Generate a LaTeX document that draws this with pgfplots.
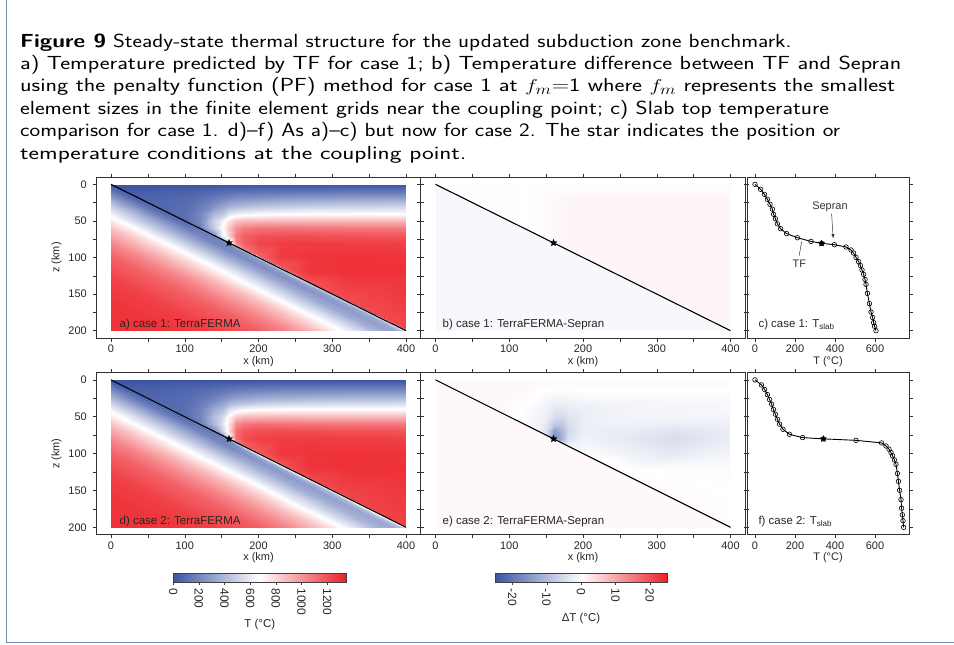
\documentclass[border=0pt]{standalone}
\usepackage{fontspec}
\setmainfont{Liberation Sans}
\usepackage{graphicx}
\usepackage{pgfplots}
\usepackage{pgfplotstable}
\pgfplotsset{compat=1.18}

\definecolor{bordercol}{RGB}{112,142,182}
\pgfplotsset{colormap={polar}{rgb255(0cm)=(59,84,164); rgb255(1cm)=(255,255,255); rgb255(2cm)=(237,32,39)}}

\pgfdeclareplotmark{fstar}{%
 \pgfpathmoveto{\pgfpointpolar{90}{\pgfplotmarksize}}%
 \pgfpathlineto{\pgfpointpolar{126}{0.42\pgfplotmarksize}}%
 \pgfpathlineto{\pgfpointpolar{162}{\pgfplotmarksize}}%
 \pgfpathlineto{\pgfpointpolar{198}{0.42\pgfplotmarksize}}%
 \pgfpathlineto{\pgfpointpolar{234}{\pgfplotmarksize}}%
 \pgfpathlineto{\pgfpointpolar{270}{0.42\pgfplotmarksize}}%
 \pgfpathlineto{\pgfpointpolar{306}{\pgfplotmarksize}}%
 \pgfpathlineto{\pgfpointpolar{342}{0.42\pgfplotmarksize}}%
 \pgfpathlineto{\pgfpointpolar{18}{\pgfplotmarksize}}%
 \pgfpathlineto{\pgfpointpolar{54}{0.42\pgfplotmarksize}}%
 \pgfpathclose\pgfusepathqfillstroke}

% temperature / difference field above the slab top (one scanline per x)
\pgfplotstableread{
x z T1 T2 D1 D2
0 0 0 0 -0.2 0.8
0 0 0 0 -0.2 0.8
0 0 0 0 -0.2 0.8
0 0 0 0 -0.2 0.8
0 0 0 0 -0.2 0.8
0 0 0 0 -0.2 0.8
0 0 0 0 -0.2 0.8
0 0 0 0 -0.2 0.8
0 0 0 0 -0.2 0.8
0 0 0 0 -0.2 0.8
0 0 0 0 -0.2 0.8
0 0 0 0 -0.2 0.8
0 0 0 0 -0.2 0.8
40 0 0 0 -0.2 0.8
40 10 40 40 -0.2 0.8
40 18 58 58 -0.2 0.8
40 18 58 58 -0.2 0.8
40 18 58 58 -0.2 0.8
40 18 58 58 -0.2 0.8
40 18 58 58 -0.2 0.8
40 18 58 58 -0.2 0.8
40 18 58 58 -0.2 0.8
40 18 58 58 -0.2 0.8
40 18 58 58 -0.2 0.8
40 18 58 58 -0.2 0.8
40 20 62 62 -0.2 0.8
80 0 0 0 -0.2 0.8
80 10 55 55 -0.2 0.8
80 20 75 75 -0.2 0.8
80 30 85 85 -0.2 0.8
80 38 90 90 -0.2 0.8
80 38 90 90 -0.2 0.8
80 38 90 90 -0.2 0.8
80 38 90 90 -0.2 0.8
80 38 90 90 -0.2 0.8
80 38 90 90 -0.2 0.8
80 38 90 90 -0.2 0.8
80 38 90 90 -0.2 0.8
80 40 92 92 -0.2 0.8
100 0 0 0 -0.2 0.8
100 10 60 60 -0.2 0.8
100 20 90 90 -0.2 0.8
100 30 100 100 -0.2 0.6
100 40 105 105 -0.2 0.5
100 48 106 106 -0.2 0.5
100 48 106 106 -0.2 0.5
100 48 106 106 -0.2 0.5
100 48 106 106 -0.2 0.5
100 48 106 106 -0.2 0.5
100 48 106 106 -0.2 0.5
100 48 106 106 -0.2 0.5
100 50 105 105 -0.2 0.6
120 0 0 0 0 0.8
120 10 70 70 0 0.8
120 20 120 115 0 0.6
120 30 160 150 0 0.2
120 40 200 185 0 -0.2
120 50 210 195 0 -0.5
120 58 180 170 0 -0.5
120 58 180 170 0 -0.5
120 58 180 170 0 -0.5
120 58 180 170 0 -0.5
120 58 180 170 0 -0.5
120 58 180 170 0 -0.5
120 60 128 123 0 0.2
140 0 0 0 0.3 0.8
140 10 90 85 0.3 0.5
140 20 170 160 0.3 -0.3
140 30 250 230 0.3 -0.8
140 40 400 340 0.3 -1.2
140 50 500 420 0.3 -1.5
140 60 480 400 0.3 -1.8
140 68 300 250 0.3 -1.8
140 68 300 250 0.3 -1.8
140 68 300 250 0.3 -1.8
140 68 300 250 0.3 -1.8
140 68 300 250 0.3 -1.8
140 70 185 150 0 -0.5
150 0 0 0 0.5 0.8
150 10 100 95 0.5 0.3
150 20 200 190 0.5 -1
150 30 310 290 0.5 -1.5
150 40 450 400 0.5 -2
150 50 620 520 0.5 -2.5
150 60 680 560 0.5 -3.5
150 70 600 480 0.5 -4.5
150 73 450 320 0.5 -4.5
150 73 450 320 0.5 -4.5
150 73 450 320 0.5 -4.5
150 73 450 320 0.5 -4.5
150 75 250 195 0 -2
160 0 0 0 0.5 0.8
160 10 110 105 0.5 0.3
160 20 230 220 0.7 -1.2
160 30 370 350 0.7 -2.2
160 40 580 540 0.7 -3.5
160 50 780 720 0.7 -5
160 60 860 760 0.7 -8
160 70 830 780 0.7 -14
160 78 600 650 0.7 -17
160 78 600 650 0.7 -17
160 78 600 650 0.7 -17
160 78 600 650 0.7 -17
160 80 330 342 0 -5
170 0 0 0 0.5 0.8
170 10 120 115 0.5 0.3
170 20 250 245 1 -1.2
170 30 395 385 1 -2.2
170 40 620 600 1 -3.5
170 50 870 860 1 -5.5
170 60 1010 1030 1 -8
170 70 1080 1120 1 -11
170 80 1050 1120 1 -12
170 83 950 1050 1 -9
170 83 950 1050 1 -9
170 83 950 1050 1 -9
170 85 450 620 0 -2
180 0 0 0 0.5 0.8
180 10 125 125 0.5 0.3
180 20 260 260 1 -1
180 30 410 410 1 -2
180 40 640 640 1 -3
180 50 890 900 1 -4
180 60 1070 1090 1 -5
180 70 1160 1190 1 -5.5
180 80 1170 1220 1 -4.5
180 88 1080 1150 1 -2
180 88 1080 1150 1 -2
180 88 1080 1150 1 -2
180 90 488 668 0 0
200 0 0 0 0.5 0.8
200 10 130 130 0.5 0.3
200 20 280 280 1 -0.5
200 30 440 440 1 -1.5
200 40 660 660 1 -2.5
200 50 900 905 1 -2.5
200 60 1100 1110 1 -2.5
200 70 1200 1215 1 -2.5
200 80 1240 1255 1 -2
200 98 1150 1190 1 -0.5
200 98 1150 1190 1 -0.5
200 98 1150 1190 1 -0.5
200 100 505 688 0 0.8
230 0 0 0 0.5 0.8
230 10 140 140 0.5 0.3
230 20 300 300 1 -0.5
230 30 460 460 1 -1.5
230 40 670 670 1 -2
230 50 900 905 1 -2
230 60 1100 1105 1 -2
230 70 1210 1215 1 -2.5
230 80 1260 1265 1 -2.5
230 100 1270 1280 1 -1
230 113 1180 1210 1 0.5
230 113 1180 1210 1 0.5
230 115 533 705 0 0.8
270 0 0 0 0.5 0.8
270 10 145 145 0.5 0.3
270 20 310 310 1 -0.5
270 30 480 480 1 -1.5
270 40 680 680 1 -1.5
270 50 900 900 1 -1.5
270 60 1090 1095 1 -2
270 70 1210 1215 1 -3
270 80 1265 1270 1 -3.5
270 100 1290 1292 1 -2
270 120 1285 1290 1 -0.5
270 133 1200 1230 1 0.5
270 135 554 715 0 0.8
320 0 0 0 0.5 0.8
320 10 150 150 0.5 0.3
320 20 320 320 1 -0.5
320 30 490 490 1 -1
320 40 680 680 1 -1.5
320 50 900 900 1 -1.5
320 60 1080 1085 1 -2.5
320 70 1200 1205 1 -4
320 80 1260 1262 1 -5
320 100 1295 1296 1 -3
320 120 1300 1300 1 -0.5
320 158 1220 1240 1 0.5
320 160 572 730 0 0.8
400 0 0 0 0.5 0.8
400 10 150 150 0.5 0.3
400 20 330 330 1 -0.5
400 30 500 500 1 -1
400 40 680 680 1 -1
400 50 900 900 1 -1.5
400 60 1080 1085 1 -2
400 70 1190 1195 1 -2.5
400 80 1250 1255 1 -2.5
400 100 1290 1292 1 -1.5
400 120 1300 1300 1 -0.5
400 198 1230 1250 1 0.5
400 200 605 743 0 0.8
}\abovemesh

% field below the slab top (one scanline per x, rows at fixed offset below the slab)
\pgfplotstableread{
x z T1 T2 D1 D2
0 0 0 0 -1 0.8
0 4 67 67 -1 0.8
0 10 166 166 -1 0.8
0 20 328 328 -1 0.8
0 30 481 481 -1 0.8
0 40 624 624 -1 0.8
0 50 751 751 -1 0.8
0 60 865 865 -1 0.8
0 80 1041 1041 -1 0.8
0 100 1159 1159 -1 0.8
0 130 1253 1253 -1 0.8
0 160 1286 1286 -1 0.8
0 200 1298 1298 -1 0.8
50 25 70 68 -1 0.8
50 29 100 100 -1 0.8
50 35 175 175 -1 0.8
50 45 330 330 -1 0.8
50 55 481 481 -1 0.8
50 65 624 624 -1 0.8
50 75 751 751 -1 0.8
50 85 865 865 -1 0.8
50 105 1041 1041 -1 0.8
50 125 1159 1159 -1 0.8
50 155 1253 1253 -1 0.8
50 185 1286 1286 -1 0.8
50 225 1298 1298 -1 0.8
100 50 103 105 -1 0.8
100 54 125 125 -1 0.8
100 60 185 185 -1 0.8
100 70 332 332 -1 0.8
100 80 482 482 -1 0.8
100 90 624 624 -1 0.8
100 100 751 751 -1 0.8
100 110 865 865 -1 0.8
100 130 1041 1041 -1 0.8
100 150 1159 1159 -1 0.8
100 180 1253 1253 -1 0.8
100 210 1286 1286 -1 0.8
100 250 1298 1298 -1 0.8
150 75 250 195 -1 0.8
150 79 190 175 -1 0.8
150 85 200 195 -1 0.8
150 95 330 330 -1 0.8
150 105 482 482 -1 0.8
150 115 624 624 -1 0.8
150 125 751 751 -1 0.8
150 135 865 865 -1 0.8
150 155 1041 1041 -1 0.8
150 175 1159 1159 -1 0.8
150 205 1253 1253 -1 0.8
150 235 1286 1286 -1 0.8
150 275 1298 1298 -1 0.8
200 100 505 688 -1 0.8
200 104 280 330 -1 0.8
200 110 230 260 -1 0.8
200 120 335 345 -1 0.8
200 130 484 488 -1 0.8
200 140 624 626 -1 0.8
200 150 751 751 -1 0.8
200 160 865 865 -1 0.8
200 180 1041 1041 -1 0.8
200 200 1159 1159 -1 0.8
200 230 1253 1253 -1 0.8
200 260 1286 1286 -1 0.8
200 300 1298 1298 -1 0.8
250 125 545 710 -1 0.8
250 129 300 360 -1 0.8
250 135 250 280 -1 0.8
250 145 340 355 -1 0.8
250 155 487 492 -1 0.8
250 165 625 628 -1 0.8
250 175 751 752 -1 0.8
250 185 865 865 -1 0.8
250 205 1041 1041 -1 0.8
250 225 1159 1159 -1 0.8
250 255 1253 1253 -1 0.8
250 285 1286 1286 -1 0.8
250 325 1298 1298 -1 0.8
300 150 562 722 -1 0.8
300 154 320 390 -1 0.8
300 160 270 300 -1 0.8
300 170 350 365 -1 0.8
300 180 492 498 -1 0.8
300 190 627 630 -1 0.8
300 200 752 754 -1 0.8
300 210 865 866 -1 0.8
300 230 1041 1041 -1 0.8
300 250 1159 1159 -1 0.8
300 280 1253 1253 -1 0.8
300 310 1286 1286 -1 0.8
300 350 1298 1298 -1 0.8
350 175 585 735 -1 0.8
350 179 340 410 -1 0.8
350 185 290 320 -1 0.8
350 195 360 380 -1 0.8
350 205 498 505 -1 0.8
350 215 630 634 -1 0.8
350 225 753 756 -1 0.8
350 235 865 866 -1 0.8
350 255 1041 1041 -1 0.8
350 275 1159 1159 -1 0.8
350 305 1253 1253 -1 0.8
350 335 1286 1286 -1 0.8
350 375 1298 1298 -1 0.8
400 200 605 743 -1 0.8
400 204 360 430 -1 0.8
400 210 310 340 -1 0.8
400 220 370 390 -1 0.8
400 230 505 512 -1 0.8
400 240 634 638 -1 0.8
400 250 755 758 -1 0.8
400 260 866 867 -1 0.8
400 280 1041 1041 -1 0.8
400 300 1159 1159 -1 0.8
400 330 1253 1253 -1 0.8
400 360 1286 1286 -1 0.8
400 400 1298 1298 -1 0.8
}\belowmesh

\pgfplotstableread{
x y T D
0 0 0 -25
1 0 1350 25
0 1 0 -25
1 1 1350 25
}\cbtab

% slab-top temperature, case 1 and case 2 (T in C, z in km)
\pgfplotstableread{
T z
0 0
28 6.8
47 13.7
62 20.5
75 27.3
87 34
93 41
102 47
112 54
128 60.6
158 67.4
212 73
280 78
333 80.6
397 82.5
455 85.6
480 89.7
493 94
505 99.8
518 105.7
527 111
535 117
543 123
550 130
555 136.7
562 149
572 163
580 174.5
588 182
593 189
598 194
605 200
}\slabA
\pgfplotstableread{
T z
0 0
32 6.8
48 13
62 20
73 26.7
83 33
92 40
102 46.6
112 53.4
123 60
140 67
172 73.8
238 78.3
342 80
505 82
633 85.5
655 89.6
670 94
680 98.6
688 103
697 108.6
705 114.5
712 127
717 137.6
723 149.8
730 162.4
733 174
737 183
740 191
743 200
}\slabB

\tikzset{plab/.style={anchor=base west, font=\fontsize{11.5}{13}\selectfont, text=black!85}}
\pgfplotsset{
  heat/.style={scale only axis, anchor=north west, hide axis, view={0}{90},
    xmin=0, xmax=400, ymin=0, ymax=200, y dir=reverse, enlargelimits=false,
    colormap name=polar},
  pframe/.style={scale only axis, anchor=north west, enlargelimits=false, clip=false,
    y dir=reverse,
    axis line style={draw=black!80, line width=0.6bp},
    tick align=outside, tick style={draw=black!80, line width=0.5bp},
    major tick length=3.5bp, minor tick length=3.5bp,
    /pgf/number format/assume math mode=true,
    tick label style={font=\fontsize{11}{13}\selectfont, text=black!85},
    yticklabel style={xshift=-2.5bp},
    label style={font=\fontsize{11}{13}\selectfont, text=black!85},
    xlabel style={yshift=3.5bp}},
  mapframe/.style={pframe, width=324.5bp, xmin=-20, xmax=420, ymin=-10, ymax=210,
    xtick={0,100,...,400}, minor xtick={50,150,...,350},
    ytick={0,50,...,200}, minor ytick={25,75,...,175}, xlabel={x (km)}},
  profframe/.style={pframe, width=162bp, xmin=-40, xmax=770, ymin=-10, ymax=210,
    xtick={0,200,400,600}, ytick={0,25,...,200}, yticklabels={}, xlabel={T (°C)}},
}
\newcommand{\capline}[2]{\scalebox{#1}[1]{#2}}

\begin{document}
\begin{tikzpicture}
\path[use as bounding box] (0,0) rectangle (954bp,-645bp);
\draw[bordercol, line width=1.2bp] (6.5bp,0) -- (6.5bp,-642.7bp) -- (954bp,-642.7bp);

% caption
\begin{scope}[every node/.style={anchor=base west, inner sep=0pt, font=\sffamily\fontsize{19}{22}\selectfont}]
\node at (20bp,-47bp) {\capline{1.2}{\textbf{Figure 9} Steady-state thermal structure for the updated subduction zone benchmark.}};
\node at (20bp,-69.4bp) {\capline{1.25}{a) Temperature predicted by TF for case 1; b) Temperature difference between TF and Sepran}};
\node at (20bp,-91.8bp) {\capline{1.258}{using the penalty function (PF) method for case 1 at $f_m$=1 where $f_m$ represents the smallest}};
\node at (20bp,-114.2bp) {\capline{1.222}{element sizes in the finite element grids near the coupling point; c) Slab top temperature}};
\node at (20bp,-136.6bp) {\capline{1.195}{comparison for case 1. d)--f) As a)--c) but now for case 2. The star indicates the position or}};
\node at (20bp,-159bp) {\capline{1.32}{temperature conditions at the coupling point.}};
\end{scope}

% ---------- heat maps ----------
\begin{axis}[heat, at={(111bp,-184.3bp)}, width=295bp, height=146.36bp, point meta min=0, point meta max=1350]
\addplot3[surf, shader=interp, mesh/cols=13, mesh/rows=15] table[x=x, y=z, z=T1] {\abovemesh};
\addplot3[surf, shader=interp, mesh/cols=13, mesh/rows=9] table[x=x, y=z, z=T1] {\belowmesh};
\end{axis}
\begin{axis}[heat, at={(435.5bp,-184.3bp)}, width=295bp, height=146.36bp, point meta min=-25, point meta max=25]
\addplot3[surf, shader=interp, mesh/cols=13, mesh/rows=15] table[x=x, y=z, z=D1] {\abovemesh};
\addplot3[surf, shader=interp, mesh/cols=13, mesh/rows=9] table[x=x, y=z, z=D1] {\belowmesh};
\end{axis}
\begin{axis}[heat, at={(111bp,-379.87bp)}, width=295bp, height=147.45bp, point meta min=0, point meta max=1350]
\addplot3[surf, shader=interp, mesh/cols=13, mesh/rows=15] table[x=x, y=z, z=T2] {\abovemesh};
\addplot3[surf, shader=interp, mesh/cols=13, mesh/rows=9] table[x=x, y=z, z=T2] {\belowmesh};
\end{axis}
\begin{axis}[heat, at={(435.5bp,-379.87bp)}, width=295bp, height=147.45bp, point meta min=-25, point meta max=25]
\addplot3[surf, shader=interp, mesh/cols=13, mesh/rows=15] table[x=x, y=z, z=D2] {\abovemesh};
\addplot3[surf, shader=interp, mesh/cols=13, mesh/rows=9] table[x=x, y=z, z=D2] {\belowmesh};
\end{axis}

% ---------- frames: row 1 ----------
\begin{axis}[mapframe, at={(96.25bp,-177bp)}, height=161bp, ylabel={z (km)}]
\addplot[black, line width=1.1bp] coordinates {(0,0) (400,200)};
\addplot[only marks, mark=fstar, mark size=3.6bp, mark options={fill=black, line width=0.3bp}] coordinates {(160,80)};
\node[plab] at (axis cs:7,196) {a) case 1: TerraFERMA};
\end{axis}
\begin{axis}[mapframe, at={(420.75bp,-177bp)}, height=161bp, yticklabels={}]
\addplot[black, line width=1.1bp] coordinates {(0,0) (400,200)};
\addplot[only marks, mark=fstar, mark size=3.6bp, mark options={fill=black, line width=0.3bp}] coordinates {(160,80)};
\node[plab] at (axis cs:5,196) {b) case 1: TerraFERMA-Sepran};
\end{axis}
\begin{axis}[profframe, at={(747bp,-177bp)}, height=161bp]
\addplot[black, line width=0.9bp] table[x=T, y=z] {\slabA};
\addplot[only marks, mark=o, mark size=2.3bp, mark options={black, line width=0.6bp}] table[x=T, y=z] {\slabA};
\addplot[only marks, mark=fstar, mark size=3.2bp, mark options={fill=black}] coordinates {(333,80.6)};
\node[font=\fontsize{11}{13}\selectfont, text=black!80] at (axis cs:375,31) {Sepran};
\draw[-latex, black!80, line width=0.5bp] (axis cs:383,40) -- (axis cs:391,74);
\node[font=\fontsize{11}{13}\selectfont, text=black!80] at (axis cs:222,108) {TF};
\draw[black!80, line width=0.5bp] (axis cs:221,97.5) -- (axis cs:233,78.4);
\node[plab] at (axis cs:0,196) {c) case 1: T\textsubscript{slab}};
\end{axis}

% ---------- frames: row 2 ----------
\begin{axis}[mapframe, at={(96.25bp,-372.5bp)}, height=162.2bp, ylabel={z (km)}]
\addplot[black, line width=1.1bp] coordinates {(0,0) (400,200)};
\addplot[only marks, mark=fstar, mark size=3.6bp, mark options={fill=black, line width=0.3bp}] coordinates {(160,80)};
\node[plab] at (axis cs:7,196) {d) case 2: TerraFERMA};
\end{axis}
\begin{axis}[mapframe, at={(420.75bp,-372.5bp)}, height=162.2bp, yticklabels={}]
\addplot[black, line width=1.1bp] coordinates {(0,0) (400,200)};
\addplot[only marks, mark=fstar, mark size=3.6bp, mark options={fill=black, line width=0.3bp}] coordinates {(160,80)};
\node[plab] at (axis cs:5,196) {e) case 2: TerraFERMA-Sepran};
\end{axis}
\begin{axis}[profframe, at={(747bp,-372.5bp)}, height=162.2bp]
\addplot[black, line width=0.9bp] table[x=T, y=z] {\slabB};
\addplot[only marks, mark=o, mark size=2.3bp, mark options={black, line width=0.6bp}] table[x=T, y=z] {\slabB};
\addplot[only marks, mark=fstar, mark size=3.2bp, mark options={fill=black}] coordinates {(342,80)};
\node[plab] at (axis cs:0,196) {f) case 2: T\textsubscript{slab}};
\end{axis}

% ---------- colour bars ----------
\begin{axis}[scale only axis, anchor=north west, hide axis, view={0}{90}, at={(173.2bp,-573.6bp)}, width=173.2bp, height=8.5bp, xmin=0, xmax=1, ymin=0, ymax=1, colormap name=polar, point meta min=0, point meta max=1350]
\addplot3[surf, shader=interp, mesh/cols=2, mesh/rows=2] table[x=x, y=y, z=T] {\cbtab};
\end{axis}
\begin{axis}[scale only axis, anchor=north west, at={(173.2bp,-573.6bp)}, width=173.2bp, height=8.5bp,
  xmin=0, xmax=1350, ymin=0, ymax=1, ytick=\empty, xtick={0,200,...,1200}, xtick pos=left,
  tick align=outside, major tick length=3bp, axis line style={draw=black!75, line width=0.6bp}, tick style={draw=black!75},
  /pgf/number format/assume math mode=true, /pgf/number format/1000 sep={},
  xticklabel style={rotate=-90, anchor=west, font=\fontsize{12}{14}\selectfont, text=black!85},
  xlabel={T (°C)}, xlabel style={font=\fontsize{11.5}{13}\selectfont, text=black!85, yshift=3bp}]
\end{axis}
\begin{axis}[scale only axis, anchor=north west, hide axis, view={0}{90}, at={(495bp,-573.6bp)}, width=172bp, height=8.5bp, xmin=0, xmax=1, ymin=0, ymax=1, colormap name=polar, point meta min=-25, point meta max=25]
\addplot3[surf, shader=interp, mesh/cols=2, mesh/rows=2] table[x=x, y=y, z=D] {\cbtab};
\end{axis}
\begin{axis}[scale only axis, anchor=north west, at={(495bp,-573.6bp)}, width=172bp, height=8.5bp,
  xmin=-25, xmax=25, ymin=0, ymax=1, ytick=\empty, xtick={-20,-10,0,10,20}, xtick pos=left,
  tick align=outside, major tick length=3bp, axis line style={draw=black!75, line width=0.6bp}, tick style={draw=black!75},
  xticklabels={-20,-10,0,10,20},
  xticklabel style={rotate=-90, anchor=west, font=\fontsize{12}{14}\selectfont, text=black!85},
  xlabel={ΔT (°C)}, xlabel style={font=\fontsize{11.5}{13}\selectfont, text=black!85}]
\end{axis}
\end{tikzpicture}
\end{document}
